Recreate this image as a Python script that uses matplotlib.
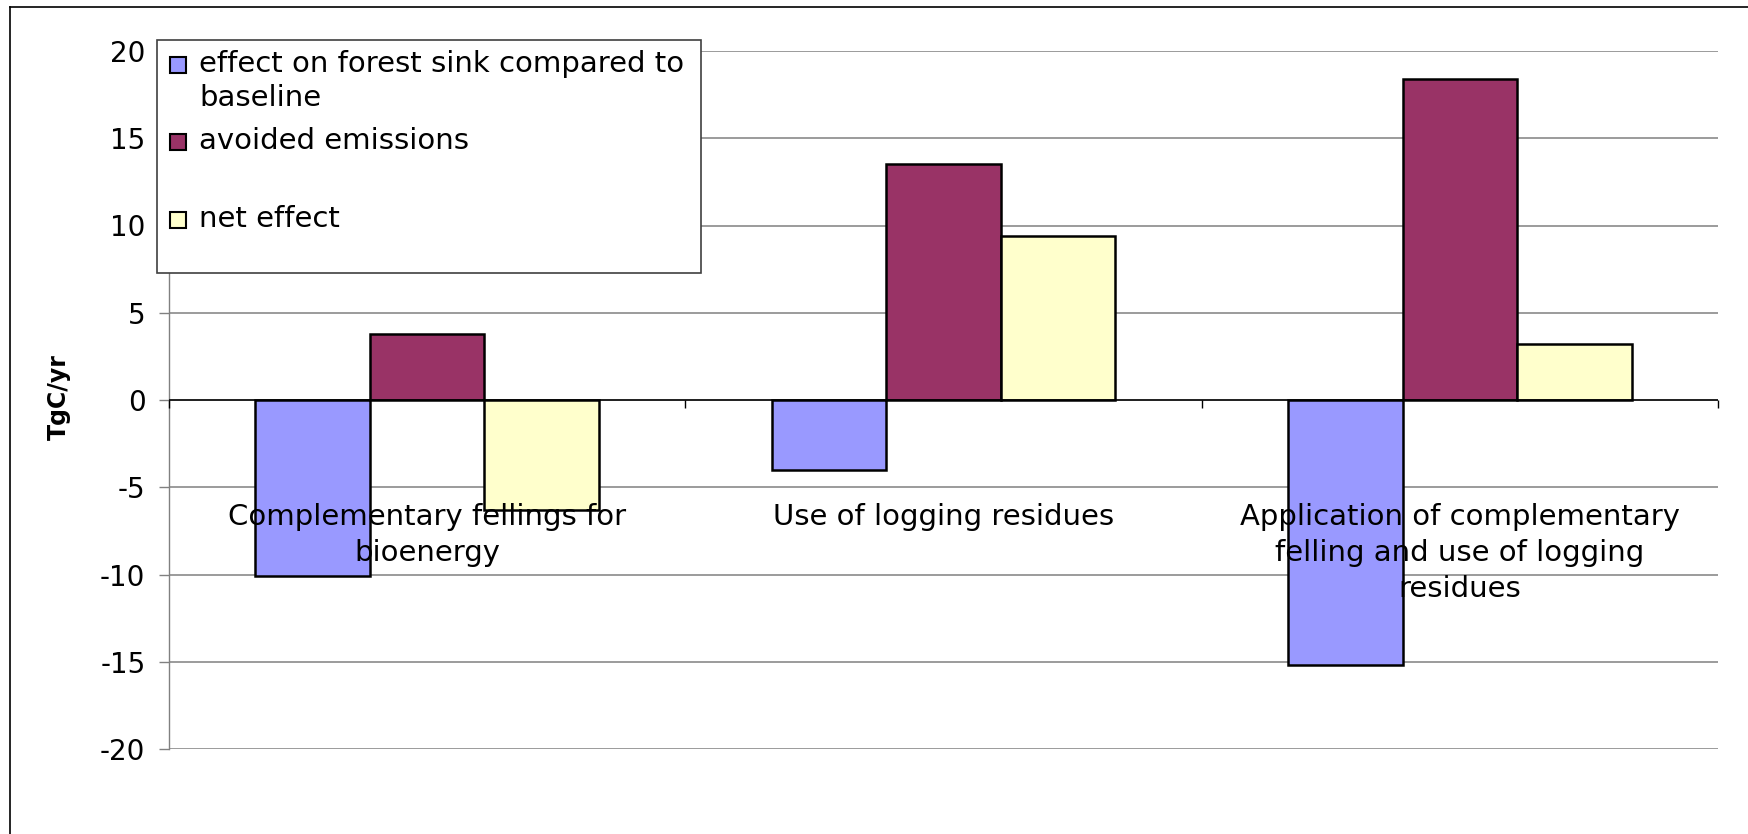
import matplotlib
matplotlib.use('Agg')
import matplotlib.pyplot as plt
import numpy as np
from matplotlib.patches import Rectangle
from matplotlib.lines import Line2D

plt.rcParams['font.family'] = 'DejaVu Sans'
plt.rcParams['axes.unicode_minus'] = False

# chart data (TgC/yr)
categories = ['Complementary fellings for\nbioenergy',
              'Use of logging residues',
              'Application of complementary\nfelling and use of logging\nresidues']
series_names = ['effect on forest sink compared to\nbaseline', 'avoided emissions', 'net effect']
forest_sink = [-10.1, -4.0, -15.2]
avoided_emissions = [3.8, 13.5, 18.4]
net_effect = [-6.3, 9.4, 3.2]
colors = ['#9999FF', '#993366', '#FFFFCC']

W, H = 1749, 834


def fx(px):
    return px / W


def fy(py):
    return 1 - py / H


fig = plt.figure(figsize=(W / 100, H / 100), dpi=100)
ax = fig.add_axes([fx(169), fy(749), fx(1718) - fx(169), fy(51) - fy(749)])

x = np.arange(len(categories))
width = 0.222
for i, (vals, c) in enumerate(zip([forest_sink, avoided_emissions, net_effect], colors)):
    ax.bar(x + (i - 1) * width, vals, width, color=c, edgecolor='black', linewidth=1.8, zorder=3)

ax.set_xlim(-0.5, len(categories) - 0.5)
ax.set_ylim(-20, 20)
ax.set_yticks(range(-20, 21, 5))
ax.yaxis.grid(True, color='#808080', linewidth=1.1)
ax.set_axisbelow(True)
ax.set_xticks([])
for s in ['top', 'right', 'bottom']:
    ax.spines[s].set_visible(False)
ax.spines['left'].set_color('#808080')
ax.spines['left'].set_linewidth(1)
ax.tick_params(axis='y', length=7, width=1, color='#808080', labelsize=20, pad=10)

# category axis at zero with tick marks between groups
ax.axhline(0, color='black', linewidth=1.1, zorder=4)
ax.vlines(np.arange(len(categories) + 1) - 0.5, -0.45, 0, color='black', linewidth=1,
          zorder=4, clip_on=False)

for xi, lab in zip(x, categories):
    ax.text(xi, -5.9, lab, ha='center', va='top', fontsize=21, linespacing=1.36, zorder=5)

fig.text(fx(59), fy(397), 'TgC/yr', rotation=90, fontsize=17, fontweight='bold',
         ha='center', va='center')

# outer chart frame
fig.add_artist(Line2D([fx(10), 1], [fy(7), fy(7)], color='black', linewidth=1.2))
fig.add_artist(Line2D([fx(10), fx(10)], [fy(7), 0], color='black', linewidth=1.2))

# legend box drawn by hand (Excel style)
fig.add_artist(Rectangle((fx(157), fy(273)), fx(701) - fx(157), fy(40) - fy(273),
                         transform=fig.transFigure, facecolor='white', edgecolor='#404040',
                         linewidth=1.2, zorder=10))
marker_y = [64.5, 142, 220]
text_top = [50, 127, 205]
for name, c, my, ty in zip(series_names, colors, marker_y, text_top):
    fig.add_artist(Rectangle((fx(170), fy(my + 8)), 16 / W, 16 / H, transform=fig.transFigure,
                             facecolor=c, edgecolor='black', linewidth=1.5, zorder=11))
    fig.text(fx(199), fy(ty), name, fontsize=21, va='top', ha='left', linespacing=1.28,
             zorder=12)

fig.savefig('out.png', dpi=100)
